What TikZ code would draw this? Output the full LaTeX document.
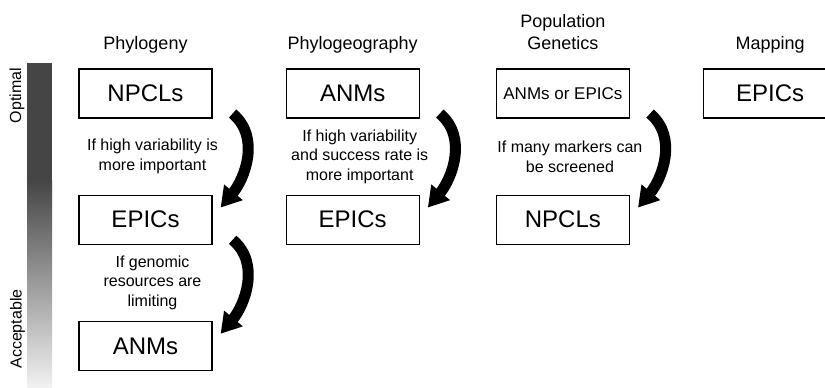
\documentclass[tikz,border=0pt]{standalone}
\usepackage{fontspec}
\setmainfont{Liberation Sans}
\usetikzlibrary{positioning,calc,arrows.meta}

\tikzset{
  box/.style={draw, line width=1.2pt, minimum width=133pt, minimum height=49pt, inner sep=0pt, font=\fontsize{24}{28}\selectfont},
  head/.style={inner sep=0pt, text depth=4pt, align=center, font=\fontsize{18}{22}\selectfont},
  cond/.style={inner sep=0pt, xshift=7pt, align=center, font=\fontsize{16}{19.5}\selectfont},
  side/.style={rotate=90, inner sep=0pt, font=\fontsize{16}{19}\selectfont},
  bigarrow/.style={line width=11pt, -{Triangle[length=20pt,width=23pt]}},
}

\begin{document}
\begin{tikzpicture}[x=1pt, y=1pt]
\useasboundingbox (0,0) rectangle (825,-388);

% scale bar
\fill [black!73] (27,-63) rectangle (52,-180);
\shade [top color=black!73, bottom color=black!5] (27,-180) rectangle (52,-388);
\node [side] (opt) at (17,-95.5) {Optimal};
\node [side] (acc) at (17.5,-329) {Acceptable};

% boxes
\node [box] (a1) at (145.5,-93.5) {NPCLs};
\node [box, below=76pt of a1] (a2) {EPICs};
\node [box, below=76pt of a2] (a3) {ANMs};

\node [box, right=73pt of a1] (b1) {ANMs};
\node [box, below=76pt of b1] (b2) {EPICs};

\node [box, right=76pt of b1, font=\fontsize{17}{20}\selectfont] (c1) {ANMs or EPICs};
\node [box, below=76pt of c1] (c2) {NPCLs};

\node [box, right=73pt of c1] (d1) {EPICs};

% headings
\node [head, above=15pt of a1] (ha) {Phylogeny};
\node [head, above=15pt of b1] (hb) {Phylogeography};
\node [head, above=15pt of c1] (hc) {Population\\Genetics};
\node [head, above=15pt of d1] (hd) {Mapping};

% conditions
\node [cond] at ($(a1.south)!0.5!(a2.north)$) {If high variability is\\more important};
\node [cond] at ($(a2.south)!0.5!(a3.north)$) {If genomic\\resources are\\limiting};
\node [cond] at ($(b1.south)!0.5!(b2.north)$) {If high variability\\and success rate is\\more important};
\node [cond] at ($(c1.south)!0.5!(c2.north)$) {If many markers can\\be screened};

% arrows
\draw [bigarrow] ([xshift=20pt,yshift=5pt]a1.south east) to [out=-40, in=50] ([xshift=8pt,yshift=-13pt]a2.north east);
\draw [bigarrow] ([xshift=20pt,yshift=5pt]a2.south east) to [out=-40, in=50] ([xshift=8pt,yshift=-13pt]a3.north east);
\draw [bigarrow] ([xshift=20pt,yshift=5pt]b1.south east) to [out=-40, in=50] ([xshift=8pt,yshift=-13pt]b2.north east);
\draw [bigarrow] ([xshift=20pt,yshift=5pt]c1.south east) to [out=-40, in=50] ([xshift=8pt,yshift=-13pt]c2.north east);

\end{tikzpicture}
\end{document}
